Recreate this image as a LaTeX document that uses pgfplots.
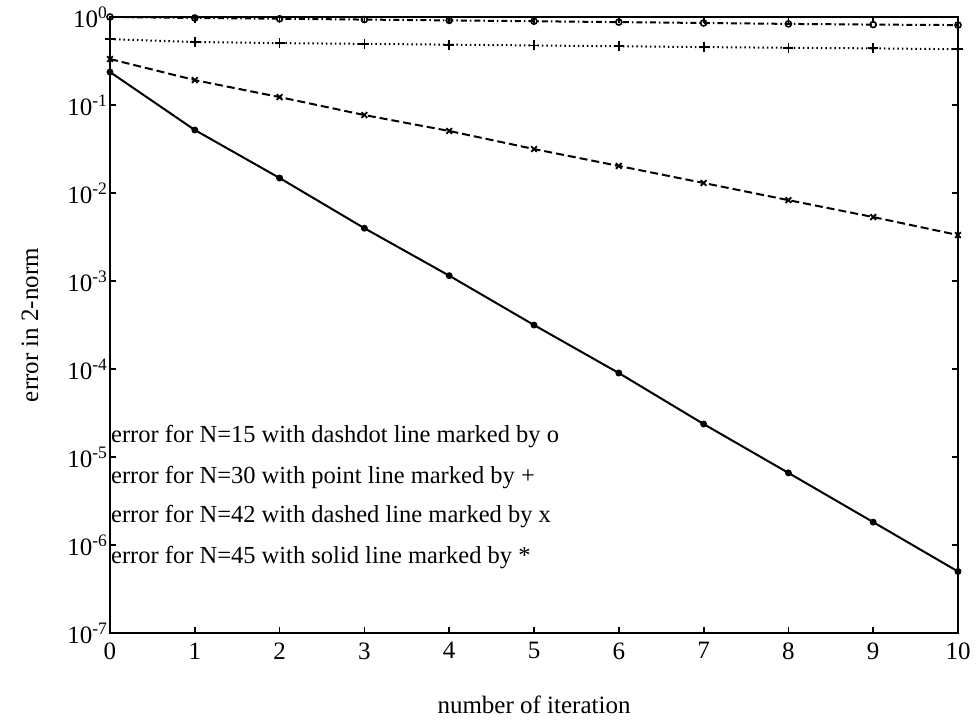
\documentclass[border=0pt]{standalone}
\usepackage{fontspec}
\setmainfont{Liberation Serif}
\usepackage{pgfplots}
\pgfplotsset{compat=1.18}
\begin{document}
\begin{tikzpicture}
\begin{axis}[name=ax, scale only axis, width=848pt, height=616pt,
  ymode=log, xmin=0, xmax=10, ymin=1e-7, ymax=1,
  xtick={0,1,2,3,4,5,6,7,8,9,10},
  xticklabels={0,1,2,3,4,5,6,7,8,9,10},
  ytick={1e-7,1e-6,1e-5,1e-4,1e-3,1e-2,1e-1,1},
  yticklabels={10\textsuperscript{-7},10\textsuperscript{-6},10\textsuperscript{-5},10\textsuperscript{-4},10\textsuperscript{-3},10\textsuperscript{-2},10\textsuperscript{-1},10\textsuperscript{0}},
  yminorticks=false, xminorticks=false,
  tick align=inside, major tick length=6pt,
  axis line style={line width=2.4pt},
  every tick/.style={line width=1.8pt, black},
  tick label style={font=\fontsize{25}{29}\selectfont},
  xticklabel style={yshift=-6pt},
  yticklabel style={xshift=1pt},
  label style={font=\fontsize{25}{29}\selectfont},
  xlabel={number of iteration},
  ylabel={error in 2-norm},
  xlabel style={at={(axis description cs:0.5,-0.1169)}, anchor=center},
  ylabel style={at={(axis description cs:-0.0943,0.5)}, anchor=center},
  clip=false,
]
% N=15 dashdot, o
\addplot[black, line width=2pt, dash pattern=on 6pt off 3pt on 1.5pt off 3pt,
  mark=o, mark size=3pt, mark options={solid, line width=1.6pt}] coordinates {
 (0,1.00) (1,0.975) (2,0.955) (3,0.935) (4,0.915) (5,0.895) (6,0.875) (7,0.855) (8,0.835) (9,0.82) (10,0.81)};
% N=30 dotted, +
\addplot[black, line width=2pt, dash pattern=on 1.5pt off 3pt,
  mark=+, mark size=5pt, mark options={solid, line width=1.8pt}] coordinates {
 (0,0.56) (1,0.52) (2,0.505) (3,0.495) (4,0.485) (5,0.475) (6,0.465) (7,0.455) (8,0.447) (9,0.44) (10,0.43)};
% N=42 dashed, x
\addplot[black, line width=2pt, dash pattern=on 8pt off 4pt,
  mark=x, mark size=4pt, mark options={solid, line width=1.8pt}] coordinates {
 (0,0.333) (1,0.192) (2,0.123) (3,0.0769) (4,0.0507) (5,0.0316) (6,0.0203) (7,0.0130) (8,0.0083) (9,0.00533) (10,0.00333)};
% N=45 solid, *
\addplot[black, line width=2pt, solid,
  mark=*, mark size=2.4pt] coordinates {
 (0,0.237) (1,0.052) (2,0.0148) (3,0.00398) (4,0.00115) (5,3.16e-4) (6,9.0e-5) (7,2.37e-5) (8,6.6e-6) (9,1.82e-6) (10,5.0e-7)};
\node[anchor=west, inner sep=0pt, xshift=1pt, font=\fontsize{24.5}{29}\selectfont] at (axis cs:0,1.7e-5) {error for N=15 with dashdot line marked by o};
\node[anchor=west, inner sep=0pt, xshift=1pt, font=\fontsize{24.5}{29}\selectfont] at (axis cs:0,5.9e-6) {error for N=30 with point line marked by +};
\node[anchor=west, inner sep=0pt, xshift=1pt, font=\fontsize{24.5}{29}\selectfont] at (axis cs:0,2.09e-6) {error for N=42 with dashed line marked by x};
\node[anchor=west, inner sep=0pt, xshift=1pt, font=\fontsize{24.5}{29}\selectfont] at (axis cs:0,7.3e-7) {error for N=45 with solid line marked by *};
\end{axis}
\path ([shift={(-110pt,-88pt)}]ax.south west) rectangle ([shift={(20pt,17pt)}]ax.north east);
\end{tikzpicture}
\end{document}
